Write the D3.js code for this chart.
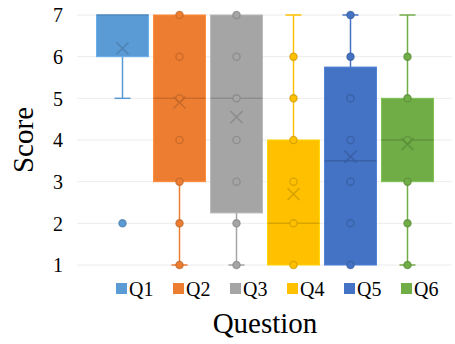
<!DOCTYPE html>
<html>
<head>
<meta charset="utf-8">
<script src="https://cdn.jsdelivr.net/npm/d3@7"></script>
<style>
  html, body { margin: 0; padding: 0; background: #fff; }
  svg { display: block; }
  text { font-family: "Liberation Serif", "Times New Roman", serif; fill: #000; }
</style>
</head>
<body>
<svg id="chart" width="455" height="344"></svg>
<script>
// ---- data ----
const categories = ["Q1", "Q2", "Q3", "Q4", "Q5", "Q6"];
const colors = ["#5B9BD5", "#ED7D31", "#A5A5A5", "#FFC000", "#4472C4", "#70AD47"];
const lowerQuartile = [6, 3, 2.25, 1, 1, 3];
const medians = [7, 5, 5, 2, 3.5, 4];
const upperQuartile = [7, 7, 7, 4, 5.75, 5];
const whiskerLow = [5, 1, 1, 1, 1, 1];
const whiskerHigh = [7, 7, 7, 7, 7, 7];
const means = [6.2, 4.9, 4.55, 2.7, 3.6, 3.9];
const pointsQ1 = [2];
const pointsQ2 = [1, 2, 3, 4, 5, 6, 7];
const pointsQ3 = [1, 2, 3, 4, 5, 6, 7];
const pointsQ4 = [1, 2, 3, 4, 5, 6];
const pointsQ5 = [1, 2, 3, 4, 5, 6, 7];
const pointsQ6 = [1, 2, 3, 4, 5, 6];
const yTicks = [1, 2, 3, 4, 5, 6, 7];
const xTitle = "Question";
const yTitle = "Score";

const points = [pointsQ1, pointsQ2, pointsQ3, pointsQ4, pointsQ5, pointsQ6];
const FONT = "Liberation Serif, Times New Roman, serif";

// ---- layout ----
const svg = d3.select("#chart");
const plotLeft = 77, plotRight = 452;
const y = d3.scaleLinear().domain([1, 7]).range([265, 15]);
const x = d3.scaleBand().domain(categories).range([94, 436]).paddingInner(0.09).paddingOuter(0.045);

// gridlines
svg.append("g").selectAll("line").data(yTicks).join("line")
  .attr("x1", plotLeft).attr("x2", plotRight)
  .attr("y1", d => y(d)).attr("y2", d => y(d))
  .attr("stroke", "#ececec").attr("stroke-width", 1);

// y axis labels
const yAxis = d3.axisLeft(y).tickValues(yTicks).tickSize(0).tickPadding(0).tickFormat(d3.format("d"));
const gy = svg.append("g").attr("transform", "translate(63,0)").call(yAxis);
gy.select(".domain").remove();
gy.attr("font-family", FONT);
gy.selectAll("text").attr("font-size", 20).attr("font-family", FONT).attr("fill", "#000").attr("dy", "0.34em");

const data = categories.map((c, i) => ({
  c, i, color: colors[i], q1: lowerQuartile[i], med: medians[i], q3: upperQuartile[i],
  lo: whiskerLow[i], hi: whiskerHigh[i], mean: means[i], pts: points[i]
}));

const g = svg.append("g").selectAll("g").data(data).join("g");
const bw = x.bandwidth();
const capW = 16;
const cx = d => x(d.c) + bw / 2;
const dark = c => d3.color(c).darker(0.6).formatHex();
const light = c => d3.color(c).brighter(0.3).formatHex();

g.each(function(d) {
  const s = d3.select(this);
  const mx = cx(d);
  // whiskers
  if (d.lo < d.q1) {
    s.append("line").attr("x1", mx).attr("x2", mx).attr("y1", y(d.q1)).attr("y2", y(d.lo))
      .attr("stroke", d.color).attr("stroke-width", 1.5);
    s.append("line").attr("x1", mx - capW / 2).attr("x2", mx + capW / 2).attr("y1", y(d.lo)).attr("y2", y(d.lo))
      .attr("stroke", d.color).attr("stroke-width", 1.5);
  }
  if (d.hi > d.q3) {
    s.append("line").attr("x1", mx).attr("x2", mx).attr("y1", y(d.q3)).attr("y2", y(d.hi))
      .attr("stroke", d.color).attr("stroke-width", 1.5);
    s.append("line").attr("x1", mx - capW / 2).attr("x2", mx + capW / 2).attr("y1", y(d.hi)).attr("y2", y(d.hi))
      .attr("stroke", d.color).attr("stroke-width", 1.5);
  }
  // box
  s.append("rect").attr("x", x(d.c)).attr("width", bw)
    .attr("y", y(d.q3)).attr("height", y(d.q1) - y(d.q3))
    .attr("fill", d.color).attr("stroke", light(d.color)).attr("stroke-width", 1);
  // median
  s.append("line").attr("x1", x(d.c)).attr("x2", x(d.c) + bw).attr("y1", y(d.med)).attr("y2", y(d.med))
    .attr("stroke", dark(d.color)).attr("stroke-width", 1.5).attr("stroke-opacity", 0.75);
  // points
  s.selectAll("circle").data(d.pts).join("circle")
    .attr("cx", mx).attr("cy", v => y(v)).attr("r", 3.6)
    .attr("fill", d.color).attr("stroke", dark(d.color)).attr("stroke-width", 1.3).attr("stroke-opacity", 0.75);
  // mean X
  const m = y(d.mean), k = 6;
  s.append("path").attr("d", `M${mx - k},${m - k}L${mx + k},${m + k}M${mx - k},${m + k}L${mx + k},${m - k}`)
    .attr("stroke", dark(d.color)).attr("stroke-width", 1.6).attr("stroke-opacity", 0.75).attr("fill", "none");
});

// legend
const leg = svg.append("g").selectAll("g").data(data).join("g")
  .attr("transform", d => `translate(${116 + d.i * 57},283)`);
leg.append("rect").attr("width", 11).attr("height", 11).attr("fill", d => d.color);
leg.append("text").attr("x", 13).attr("y", 12.5).attr("font-size", 20).attr("font-family", FONT).text(d => d.c);

// axis titles
svg.append("text").attr("x", 265).attr("y", 333).attr("text-anchor", "middle").attr("font-size", 29).attr("font-family", FONT).text(xTitle);
svg.append("text").attr("transform", "translate(33,140) rotate(-90)").attr("text-anchor", "middle").attr("font-size", 29).attr("font-family", FONT).text(yTitle);
</script>
</body>
</html>
